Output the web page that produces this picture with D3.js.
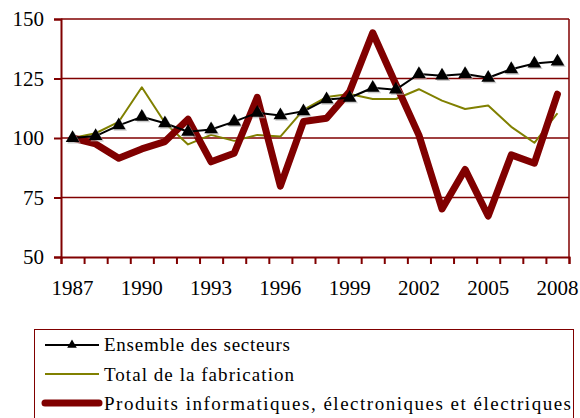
<!DOCTYPE html>
<html>
<head>
<meta charset="utf-8">
<script src="https://cdn.jsdelivr.net/npm/d3@7"></script>
<style>
  body { margin: 0; background: #fff; }
</style>
</head>
<body>
<div id="chart"></div>
<script>
// values (index 1987 = 100)
const years = d3.range(1987, 2009);
const ensemble = [100, 100.8, 105.3, 108.9, 106.2, 102.6, 103.6, 106.9, 110.6, 109.5, 111.2, 116.2, 116.9, 121.1, 120.3, 126.9, 126.2, 126.9, 125.3, 128.9, 131.3, 132.1];
const fabrication = [100, 102, 106.8, 121.3, 106.4, 97.3, 101.3, 98.8, 101.3, 100.6, 111.8, 117.2, 118.5, 116.4, 116.4, 120.5, 115.7, 112.2, 113.7, 104.7, 98, 110.4];
const produits = [100, 97.5, 91.5, 95.4, 98.5, 107.9, 90, 93.6, 117.1, 79.8, 106.9, 108.3, 119.5, 144.2, 122.6, 101.2, 70.2, 86.8, 67.2, 92.9, 89.4, 118.4];
const yTicks = [50, 75, 100, 125, 150];
const xLabels = [1987, 1990, 1993, 1996, 1999, 2002, 2005, 2008];
const seriesNames = ["Ensemble des secteurs", "Total de la fabrication", "Produits informatiques, électroniques et électriques"];

const W = 580, H = 418;
const margin = { top: 19, right: 11, bottom: 161, left: 61 };
const width = W - margin.left - margin.right;
const height = H - margin.top - margin.bottom;
const axisColor = "#800000";
const serif = '"Liberation Serif", serif';

const svg = d3.select("#chart").append("svg")
  .attr("width", W)
  .attr("height", H);

const g = svg.append("g")
  .attr("transform", `translate(${margin.left},${margin.top})`);

// scales
const x = d3.scaleBand().domain(years).range([0, width]).padding(0);
const xEdge = d3.scaleLinear().domain([0, years.length]).range([0, width]);
const y = d3.scaleLinear().domain([50, 150]).range([height, 0]);
const cx = d => x(d) + x.bandwidth() / 2;

// horizontal grid lines (75 .. 150)
g.selectAll("line.grid")
  .data(yTicks.slice(1))
  .enter()
  .append("line")
    .attr("class", "grid")
    .attr("x1", 0)
    .attr("x2", width)
    .attr("y1", d => y(d))
    .attr("y2", d => y(d))
    .attr("stroke", axisColor)
    .attr("stroke-width", 1.5);

// right border of the plot
g.append("line")
  .attr("x1", width).attr("x2", width)
  .attr("y1", 0).attr("y2", height)
  .attr("stroke", axisColor)
  .attr("stroke-width", 1.5);

// y axis
const yAxis = g.append("g")
  .call(d3.axisLeft(y).tickValues(yTicks).tickSize(7).tickPadding(10));
yAxis.select(".domain").attr("stroke", axisColor).attr("stroke-width", 2);
yAxis.selectAll(".tick line").attr("stroke", axisColor).attr("stroke-width", 2);
yAxis.selectAll("text")
  .attr("fill", "#000")
  .style("font-family", serif)
  .style("font-size", "21px");

// x axis: tick marks on the category edges
const xAxisTicks = g.append("g")
  .attr("transform", `translate(0,${height})`)
  .call(d3.axisBottom(xEdge).tickValues(d3.range(years.length + 1)).tickSize(7).tickFormat(""));
xAxisTicks.select(".domain").attr("stroke", axisColor).attr("stroke-width", 2);
xAxisTicks.selectAll(".tick line").attr("stroke", axisColor).attr("stroke-width", 2);

// x axis: labels every third year, centred in the category
const xAxisLabels = g.append("g")
  .attr("transform", `translate(0,${height})`)
  .call(d3.axisBottom(x).tickValues(xLabels).tickSize(0));
xAxisLabels.select(".domain").remove();
xAxisLabels.selectAll("text")
  .attr("y", 38)
  .attr("dy", 0)
  .attr("fill", "#000")
  .style("font-family", serif)
  .style("font-size", "21px");

// lines
const line = d3.line()
  .x((d, i) => cx(years[i]))
  .y(d => y(d));

g.append("path")
  .datum(fabrication)
  .attr("fill", "none")
  .attr("stroke", "#808000")
  .attr("stroke-width", 2)
  .attr("stroke-linejoin", "round")
  .attr("d", line);

g.append("path")
  .datum(produits)
  .attr("fill", "none")
  .attr("stroke", "#800000")
  .attr("stroke-width", 7)
  .attr("stroke-linejoin", "round")
  .attr("stroke-linecap", "round")
  .attr("d", line);

g.append("path")
  .datum(ensemble)
  .attr("fill", "none")
  .attr("stroke", "#000")
  .attr("stroke-width", 2)
  .attr("stroke-linejoin", "round")
  .attr("d", line);

const tri = d3.symbol().type(d3.symbolTriangle).size(80);

// marker shadows
g.selectAll("path.shadow")
  .data(ensemble)
  .enter()
  .append("path")
    .attr("class", "shadow")
    .attr("d", tri)
    .attr("transform", (d, i) => `translate(${cx(years[i]) + 1.5},${y(d) + 1.5})`)
    .attr("fill", "#aaa")
    .attr("opacity", 0.6);

g.selectAll("path.marker")
  .data(ensemble)
  .enter()
  .append("path")
    .attr("class", "marker")
    .attr("d", tri)
    .attr("transform", (d, i) => `translate(${cx(years[i])},${y(d)})`)
    .attr("fill", "#000");

// legend
const legend = svg.append("g");

legend.append("rect")
  .attr("x", 34.5)
  .attr("y", 329.5)
  .attr("width", 539)
  .attr("height", 100)
  .attr("fill", "#fff")
  .attr("stroke", axisColor)
  .attr("stroke-width", 1);

const legendRows = [
  { name: seriesNames[0], color: "#000", w: 2, ly: 345, ty: 351, len: 186 },
  { name: seriesNames[1], color: "#808000", w: 2, ly: 374, ty: 381, len: 190 },
  { name: seriesNames[2], color: "#800000", w: 7, ly: 403, ty: 410, len: 467 }
];

legendRows.forEach((r, i) => {
  legend.append("line")
    .attr("x1", 45).attr("x2", 99)
    .attr("y1", r.ly).attr("y2", r.ly)
    .attr("stroke", r.color)
    .attr("stroke-width", r.w)
    .attr("stroke-linecap", i === 2 ? "round" : "butt");
  if (i === 0) {
    legend.append("path")
      .attr("d", d3.symbol().type(d3.symbolTriangle).size(40))
      .attr("transform", `translate(72,${r.ly})`)
      .attr("fill", "#000");
  }
  legend.append("text")
    .attr("x", 104)
    .attr("y", r.ty)
    .attr("textLength", r.len)
    .attr("lengthAdjust", "spacing")
    .style("font-family", serif)
    .style("font-size", "19px")
    .text(r.name);
});
</script>
</body>
</html>
